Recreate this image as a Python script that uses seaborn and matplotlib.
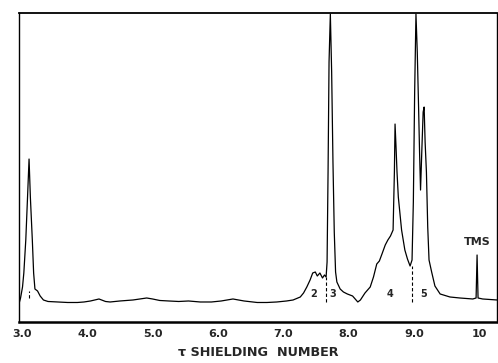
import matplotlib
matplotlib.use("Agg")
import matplotlib.pyplot as plt
import seaborn as sns
import pandas as pd

# --- data ---
tau = [2.955, 2.98, 3.01, 3.03, 3.06, 3.09, 3.11, 3.13, 3.16, 3.18, 3.20, 3.24, 3.28, 3.33, 3.40,
       3.55, 3.70, 3.85, 3.95, 4.05, 4.18, 4.28, 4.35, 4.50, 4.70, 4.91, 5.00, 5.11, 5.25, 5.40,
       5.55, 5.73, 5.90, 6.05, 6.23, 6.40, 6.60, 6.75, 6.90, 7.05, 7.15, 7.26, 7.31, 7.36, 7.41,
       7.45, 7.49, 7.52, 7.56, 7.60, 7.63, 7.655, 7.67, 7.685, 7.70, 7.72, 7.74, 7.76, 7.78, 7.80,
       7.82, 7.87, 7.92, 7.98, 8.06, 8.14, 8.18, 8.25, 8.33, 8.38, 8.43, 8.47, 8.51, 8.56, 8.60,
       8.64, 8.68, 8.70, 8.71, 8.725, 8.74, 8.76, 8.81, 8.86, 8.90, 8.94, 8.97, 8.99, 9.01, 9.03,
       9.05, 9.07, 9.085, 9.10, 9.12, 9.14, 9.155, 9.17, 9.19, 9.21, 9.23, 9.27, 9.32, 9.40, 9.55,
       9.70, 9.90, 9.95, 9.965, 9.98, 10.05, 10.27]
intensity = [18, 24, 35, 49, 82, 130, 163, 125, 82, 49, 33, 31, 26, 22, 20.5,
             20, 19.5, 19.5, 20, 21, 23, 20.5, 20, 21, 22, 24, 23, 21.5, 21, 20.5,
             21, 20, 20, 21, 23, 21, 19.5, 19.5, 20, 21, 22, 25, 29, 35, 42,
             49, 50, 46, 49, 44, 47, 45, 60, 150, 260, 308, 250, 160, 90, 50,
             40, 33, 30, 28, 26, 20, 22, 29, 35, 45, 58, 61, 68, 77, 82,
             86, 92, 150, 198, 175, 150, 125, 92, 72, 63, 56, 62, 120, 230, 308,
             270, 215, 170, 132, 172, 210, 215, 180, 150, 95, 62, 50, 36, 28, 25,
             24, 23, 24, 67, 24, 23, 22]

tick_values = [3, 4, 5, 6, 7, 8, 9, 10]
tick_labels = ["3.0", "4.0", "5.0", "6.0", "7.0", "8.0", "9.0", "10"]

group_labels = ["2", "3", "4", "5"]
group_label_tau = [7.46, 7.76, 8.63, 9.14]

divider_tau = [3.115, 7.655, 8.965]
divider_low = [24, 20, 20]
divider_high = [31, 45, 56]

df = pd.DataFrame({"tau": tau, "intensity": intensity})

sns.set_style("white")
plt.rcParams["font.family"] = ["DejaVu Sans"]

fig = plt.figure(figsize=(4.98, 3.63), dpi=100)
ax = fig.add_axes([0.038, 0.113, 0.960, 0.851])

sns.lineplot(data=df, x="tau", y="intensity", ax=ax, color="black",
             linewidth=0.9, estimator=None, sort=False)

ax.vlines(divider_tau, divider_low, divider_high, colors="black",
          linestyles=(0, (3, 2)), linewidth=0.8)

for lab, t in zip(group_labels, group_label_tau):
    ax.text(t, 28, lab, ha="center", va="center", fontsize=7, fontweight="bold")
ax.text(9.97, 80, "TMS", ha="center", va="center", fontsize=8, fontweight="bold")

ax.set_xlim(2.955, 10.27)
ax.set_ylim(0, 309)
ax.set_xticks(tick_values)
ax.set_xticklabels(tick_labels, fontsize=8, fontweight="bold")
ax.set_yticks([])
ax.tick_params(axis="x", direction="in", length=3, width=1.2, pad=5)
ax.set_xlabel("τ SHIELDING  NUMBER", fontsize=9.2, fontweight="bold", labelpad=5)
ax.set_ylabel("")

for side, lw in {"bottom": 1.8, "top": 1.3, "left": 1.0, "right": 1.0}.items():
    ax.spines[side].set_visible(True)
    ax.spines[side].set_linewidth(lw)
    ax.spines[side].set_color("black")

fig.savefig("out.png", dpi=100)
